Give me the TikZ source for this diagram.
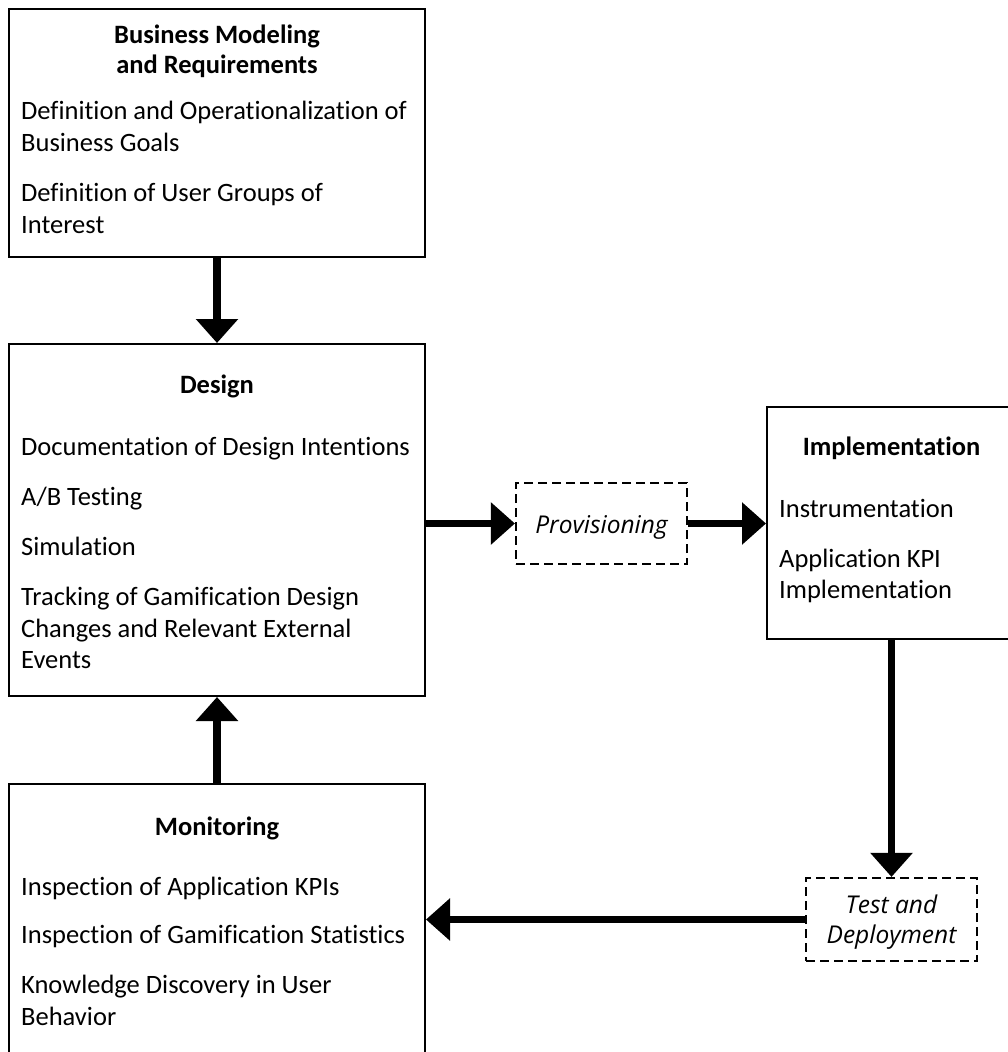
\documentclass[tikz,border=0pt]{standalone}
\usepackage{fontspec}
\setmainfont[Ligatures=NoCommon]{Carlito}
\newfontfamily\stagefont[Ligatures=NoCommon]{Open Sans}
\usetikzlibrary{arrows.meta}

\tikzset{
  phase/.style={draw, line width=2pt, rectangle, inner sep=0pt},
  stage/.style={draw, line width=2.2pt, dash pattern=on 9pt off 5pt, rectangle, inner sep=0pt},
  head/.style={inner sep=0pt, anchor=base, font=\fontsize{26.5}{32}\selectfont\bfseries},
  item/.style={inner sep=0pt, anchor=base west, font=\fontsize{26.5}{32}\selectfont},
  stagetext/.style={inner sep=0pt, anchor=base, font=\fontsize{24.5}{30}\stagefont\itshape},
  flow/.style={line width=7.5pt, -{Triangle[width=41pt,length=24pt]}}
}

\begin{document}
\begin{tikzpicture}[x=1pt,y=-1pt]
  \useasboundingbox (0,0) rectangle (1008,1052);
  \clip (0,0) rectangle (1008,1052);
  \fill[white] (0,0) rectangle (1008,1052);

  % phase boxes
  \node[phase, minimum width=416pt, minimum height=248pt] (bm) at (217,133) {};
  \node[phase, minimum width=416pt, minimum height=352pt] (design) at (217,520) {};
  \node[phase, minimum width=416pt, minimum height=290pt] (monitor) at (217,929) {};
  \node[phase, minimum width=248pt, minimum height=232pt] (impl) at (891,523) {};

  % intermediate steps
  \node[stage, minimum width=171pt, minimum height=81pt] (prov) at (601.5,523.5) {};
  \node[stage, minimum width=171pt, minimum height=83pt] (test) at (891.5,919.5) {};

  % Business Modeling and Requirements
  \node[head] (bmt1) at (217,43) {Business Modeling};
  \node[head] (bmt2) at (217,73) {and Requirements};
  \node[item] (bm1) at (21,119) {Definition and Operationalization of};
  \node[item] (bm2) at (21,151) {Business Goals};
  \node[item] (bm3) at (21,201) {Definition of User Groups of};
  \node[item] (bm4) at (21,233) {Interest};

  % Design
  \node[head] (dt) at (217,393) {Design};
  \node[item] (d1) at (21,455) {Documentation of Design Intentions};
  \node[item] (d2) at (21,505) {A/B Testing};
  \node[item] (d3) at (21,555) {Simulation};
  \node[item] (d4) at (21,605) {Tracking of Gamification Design};
  \node[item] (d5) at (21,637) {Changes and Relevant External};
  \node[item] (d6) at (21,668) {Events};

  % Implementation
  \node[head] (it) at (891.5,455) {Implementation};
  \node[item] (i1) at (779,517) {Instrumentation};
  \node[item] (i2) at (779,567) {Application KPI};
  \node[item] (i3) at (779,598) {Implementation};

  % Monitoring
  \node[head] (mt) at (217,835) {Monitoring};
  \node[item] (m1) at (21,895) {Inspection of Application KPIs};
  \node[item] (m2) at (21,943) {Inspection of Gamification Statistics};
  \node[item] (m3) at (21,993) {Knowledge Discovery in User};
  \node[item] (m4) at (21,1025) {Behavior};

  % step labels
  \node[stagetext] (pt) at (601.5,533) {Provisioning};
  \node[stagetext] (tt1) at (891.5,913) {Test and};
  \node[stagetext] (tt2) at (891.5,943) {Deployment};

  % flow arrows
  \draw[flow] (bm.south) -- (design.north);
  \draw[flow] (monitor.north) -- (design.south);
  \draw[flow] (design.east |- prov.west) -- (prov.west);
  \draw[flow] (prov.east) -- (impl.west |- prov.east);
  \draw[flow] (impl.south -| test.north) -- (test.north);
  \draw[flow] (test.west) -- (monitor.east |- test.west);
\end{tikzpicture}
\end{document}
